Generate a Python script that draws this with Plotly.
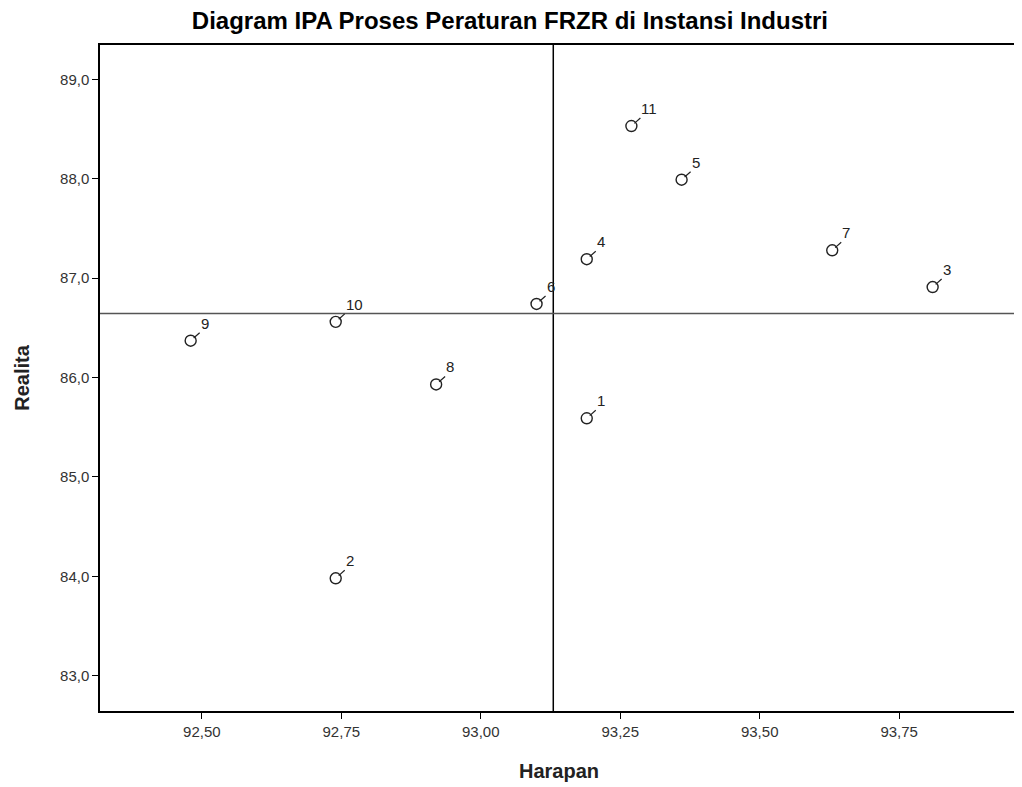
import plotly.graph_objects as go

labels = ["1", "2", "3", "4", "5", "6", "7", "8", "9", "10", "11"]
harapan = [93.19, 92.74, 93.81, 93.19, 93.36, 93.10, 93.63, 92.92, 92.48, 92.74, 93.27]
realita = [85.59, 83.98, 86.91, 87.19, 87.99, 86.74, 87.28, 85.93, 86.37, 86.56, 88.53]
x_ref = 93.13
y_ref = 86.645
x_ticks = [92.50, 92.75, 93.00, 93.25, 93.50, 93.75]
y_ticks = [83.0, 84.0, 85.0, 86.0, 87.0, 88.0, 89.0]

FONT = "Liberation Sans, Arial, sans-serif"

fig = go.Figure()
fig.add_trace(go.Scatter(
    x=harapan, y=realita, mode="markers",
    marker=dict(symbol="circle-open", size=11, color="#222222", line=dict(width=1.4)),
    hoverinfo="x+y+text", text=labels, showlegend=False,
))

for lab, xv, yv in zip(labels, harapan, realita):
    fig.add_annotation(
        x=xv, y=yv, text=lab, showarrow=True, arrowhead=0, arrowwidth=1.2,
        arrowcolor="#222222", ax=9, ay=-8, standoff=4, startstandoff=0,
        xanchor="left", yanchor="bottom",
        font=dict(family=FONT, size=15, color="#222222"),
        borderpad=0,
    )

fig.add_vline(x=x_ref, line=dict(color="black", width=1.5))
fig.add_hline(y=y_ref, line=dict(color="#555555", width=1.5))

fig.update_layout(
    width=1014, height=779,
    margin=dict(l=92, r=2, t=37, b=76),
    paper_bgcolor="white", plot_bgcolor="white",
    separators=",.",
    title=dict(text="<b>Diagram IPA Proses Peraturan FRZR di Instansi Industri</b>",
               x=0.495, xref="container", xanchor="center",
               y=1.0, yref="container", yanchor="top", pad=dict(t=4, b=0, l=0, r=0),
               font=dict(family=FONT, size=24, color="black")),
    font=dict(family=FONT),
)

fig.update_xaxes(
    range=[92.3175, 93.963], tickvals=x_ticks, tickformat=".2f",
    showgrid=False, zeroline=False, showline=True, linecolor="black", linewidth=1.5,
    mirror=True, ticks="outside", ticklen=6, tickcolor="black",
    tickfont=dict(family=FONT, size=15, color="#333333"),
    title=dict(text="<b>Harapan</b>", font=dict(family=FONT, size=20, color="#222222"), standoff=25),
)
fig.update_yaxes(
    range=[82.645, 89.345], tickvals=y_ticks, tickformat=".1f",
    showgrid=False, zeroline=False, showline=True, linecolor="black", linewidth=1.5,
    mirror=True, ticks="outside", ticklen=6, tickcolor="black",
    tickfont=dict(family=FONT, size=15, color="#333333"),
    title=dict(text="<b>Realita</b>", font=dict(family=FONT, size=20, color="#222222"), standoff=25),
)

fig.write_html("out.html")
